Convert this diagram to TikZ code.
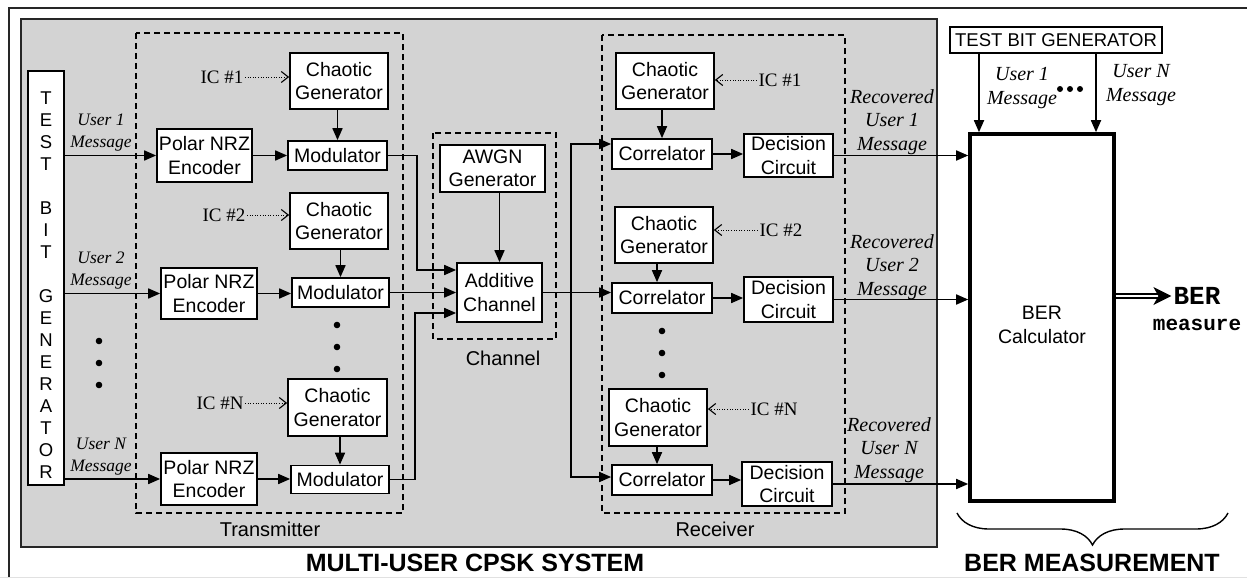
\documentclass[tikz,border=0pt]{standalone}
\usepackage{fontspec}
\setmainfont{Liberation Serif}
\setsansfont{Liberation Sans}
\setmonofont{Liberation Mono}
\usetikzlibrary{arrows.meta,decorations.pathreplacing,calc}

\definecolor{panel}{RGB}{211,211,211}
\definecolor{rule}{RGB}{225,225,225}

\tikzset{
  blk/.style={draw, line width=1.7pt, fill=white, inner sep=0pt, align=center,
    font=\sffamily\fontsize{19.5}{23.5}\selectfont},
  grp/.style={draw, line width=1.5pt, dash pattern=on 6pt off 4pt},
  grplabel/.style={font=\sffamily\fontsize{20}{24}\selectfont, inner sep=0pt},
  arr/.style={line width=1.7pt, -{Triangle[length=12pt,width=10pt]}},
  twoarr/.style={line width=1.7pt, {Triangle[length=12pt,width=10pt]}-{Triangle[length=12pt,width=10pt]}},
  icarr/.style={line width=1pt, dash pattern=on 1pt off 1.6pt,
    -{Straight Barb[length=7pt,width=11pt,line width=1.1pt]}},
  msgl/.style={font=\itshape\fontsize{17.5}{22}\selectfont, align=center, inner sep=0pt},
  msgr/.style={font=\itshape\fontsize{20}{23.5}\selectfont, align=center, inner sep=0pt},
  ic/.style={font=\rmfamily\fontsize{19}{22}\selectfont, inner sep=1.5pt},
  title/.style={font=\sffamily\bfseries\fontsize{25}{28}\selectfont, inner sep=0pt},
}

\begin{document}
\begin{tikzpicture}[x=1pt, y=-1pt]
\useasboundingbox (0,0) rectangle (1247,578);

% frame and system panel
\draw[line width=1.6pt, black!85] (9,578) -- (9,8) -- (1247,8);
\draw[line width=1pt, rule] (0,577.5) -- (1247,577.5);
\draw[line width=1.8pt, fill=panel, draw=black!85] (21,19) rectangle (937,547);

% dashed groups
\draw[grp] (136,33) rectangle (403,513);
\draw[grp] (433,133) rectangle (556,339);
\draw[grp] (602,35) rectangle (845,513);
\node[grplabel] (txl) at (270,529) {Transmitter};
\node[grplabel] (chl) at (503,358) {Channel};
\node[grplabel] (rxl) at (715,529) {Receiver};

% test bit generator (left)
\node[blk, minimum width=36pt, minimum height=414pt] (tbg) at (46,278) {};
\node[font=\sffamily\fontsize{18.5}{22}\selectfont, align=center, inner sep=0pt] (tbgtxt) at (46,285)
  {T\\E\\S\\T\\\mbox{}\\B\\I\\T\\\mbox{}\\G\\E\\N\\E\\R\\A\\T\\O\\R};

% transmitter
\node[blk, minimum width=95pt, minimum height=53pt] (pe1) at (204.5,155.5) {Polar NRZ\\Encoder};
\node[blk, minimum width=98pt, minimum height=56pt] (cg1) at (339,81) {Chaotic\\Generator};
\node[blk, minimum width=99pt, minimum height=29pt] (mod1) at (337.5,155.5) {Modulator};
\node[blk, minimum width=98pt, minimum height=56pt] (cg2) at (339,221) {Chaotic\\Generator};
\node[blk, minimum width=96pt, minimum height=51pt] (pe2) at (209,293.5) {Polar NRZ\\Encoder};
\node[blk, minimum width=97pt, minimum height=29pt] (mod2) at (340.5,292.5) {Modulator};
\node[blk, minimum width=99pt, minimum height=57pt] (cgN) at (337.5,407.5) {Chaotic\\Generator};
\node[blk, minimum width=96pt, minimum height=52pt] (peN) at (209,479) {Polar NRZ\\Encoder};
\node[blk, minimum width=98pt, minimum height=28pt] (modN) at (340,479.5) {Modulator};

\node[ic] (ic1) at (222,77) {IC \#1};
\node[ic] (ic2) at (224,215) {IC \#2};
\node[ic] (icN) at (220,403) {IC \#N};

\node[msgl] (m1) at (101,133) {User 1\\Message};
\node[msgl] (m2) at (101,271) {User 2\\Message};
\node[msgl] (mN) at (101,457) {User N\\Message};

% channel
\node[blk, minimum width=105pt, minimum height=47pt] (awgn) at (492.5,168.5) {AWGN\\Generator};
\node[blk, minimum width=85pt, minimum height=59pt] (add) at (499.5,292.5) {Additive\\Channel};

% receiver
\node[blk, minimum width=98pt, minimum height=56pt] (rcg1) at (665,81) {Chaotic\\Generator};
\node[blk, minimum width=100pt, minimum height=30pt] (cor1) at (662,154) {Correlator};
\node[blk, minimum width=89pt, minimum height=43pt] (dec1) at (788.5,155.5) {Decision\\Circuit};
\node[blk, minimum width=98pt, minimum height=56pt] (rcg2) at (664,235) {Chaotic\\Generator};
\node[blk, minimum width=100pt, minimum height=30pt] (cor2) at (662,298) {Correlator};
\node[blk, minimum width=89pt, minimum height=45pt] (dec2) at (788.5,299.5) {Decision\\Circuit};
\node[blk, minimum width=98pt, minimum height=57pt] (rcgN) at (658,417.5) {Chaotic\\Generator};
\node[blk, minimum width=100pt, minimum height=30pt] (corN) at (662,480) {Correlator};
\node[blk, minimum width=90pt, minimum height=44pt] (decN) at (787,484) {Decision\\Circuit};

\node[ic] (ric1) at (780,80) {IC \#1};
\node[ic] (ric2) at (781,230) {IC \#2};
\node[ic] (ricN) at (774,409) {IC \#N};

\node[msgr] (r1) at (892,122) {Recovered\\User 1\\Message};
\node[msgr] (r2) at (892,267) {Recovered\\User 2\\Message};
\node[msgr] (rN) at (889,450) {Recovered\\User N\\Message};

% BER measurement
\node[blk, font=\sffamily\fontsize{18.5}{22}\selectfont, minimum width=212pt, minimum height=26pt] (tbgtop) at (1056,40) {TEST BIT GENERATOR};
\node[draw, line width=3.6pt, fill=white, minimum width=144pt, minimum height=367pt] (ber) at (1042,317.5) {};
\node[blk, draw=none, fill=none] (bertxt) at (1042,325) {BER\\Calculator};
\node[msgr] (u1) at (1022,88) {User 1\\Message};
\node[msgr] (uN) at (1141,85) {User N\\Message};
\node[font=\ttfamily\bfseries\fontsize{26}{28}\selectfont, inner sep=2pt] (bero1) at (1197,296) {BER};
\node[font=\ttfamily\bfseries\fontsize{21}{24}\selectfont, inner sep=0pt] (bero2) at (1197,325) {measure};

\node[title] (sysname) at (475,563) {MULTI-USER CPSK SYSTEM};
\node[title] (bername) at (1092,563) {BER MEASUREMENT};

% ellipsis dots
\foreach \yy in {341,363,385} \fill (99,\yy) circle (3.3pt);
\foreach \yy in {325,347,369} \fill (337,\yy) circle (3.3pt);
\foreach \yy in {331,353,375} \fill (662,\yy) circle (3.3pt);
\foreach \xx in {1060,1070,1080} \fill (\xx,89) circle (3pt);

% transmitter connections
\draw[arr] (tbg.east |- pe1.west) -- (pe1.west);
\draw[arr] (tbg.east |- pe2.west) -- (pe2.west);
\draw[arr] (tbg.east |- peN.west) -- (peN.west);
\draw[arr] (pe1.east) -- (pe1.east -| mod1.west);
\draw[arr] (pe2.east) -- (pe2.east -| mod2.west);
\draw[arr] (peN.east) -- (peN.east -| modN.west);
\draw[arr] (mod1.north |- cg1.south) -- (mod1.north);
\draw[arr] (mod2.north |- cg2.south) -- (mod2.north);
\draw[arr] (modN.north |- cgN.south) -- (modN.north);
\draw[icarr] (ic1.east) -- (ic1.east -| cg1.west);
\draw[icarr] (ic2.east) -- (ic2.east -| cg2.west);
\draw[icarr] (icN.east) -- (icN.east -| cgN.west);

% into the channel
\coordinate (t1) at (417,270);
\coordinate (t3) at (415,313);
\draw[arr] (mod1.east) -| (t1) -- (t1 -| add.west);
\draw[arr] (mod2.east) -- (mod2.east -| add.west);
\draw[arr] (modN.east) -| (t3) -- (t3 -| add.west);
\draw[arr] (add.north |- awgn.south) -- (add.north);

% channel output to the correlators
\coordinate (b1) at (571,144);
\coordinate (bN) at (571,477);
\draw[arr] (add.east) -- (add.east -| cor2.west);
\draw[twoarr] (b1 -| cor1.west) -- (b1) -- (bN) -- (bN -| corN.west);

% receiver connections
\coordinate (rx) at (657,0);
\draw[arr] (rcg1.south -| cor1.north) -- (cor1.north);
\draw[arr] (rcg2.south -| rx) -- (cor2.north -| rx);
\draw[arr] (rcgN.south -| rx) -- (corN.north -| rx);
\draw[icarr] (ric1.west) -- (ric1.west -| rcg1.east);
\draw[icarr] (ric2.west) -- (ric2.west -| rcg2.east);
\draw[icarr] (ricN.west) -- (ricN.west -| rcgN.east);
\draw[arr] (cor1.east) -- (cor1.east -| dec1.west);
\draw[arr] (cor2.east) -- (cor2.east -| dec2.west);
\draw[arr] (corN.east) -- (corN.east -| decN.west);
\draw[arr] (dec1.east) -- (dec1.east -| ber.west);
\draw[arr] (dec2.east) -- (dec2.east -| ber.west);
\draw[arr] (decN.east) -- (decN.east -| ber.west);

% BER side
\coordinate (ux1) at (979,0);
\coordinate (uxN) at (1096,0);
\draw[arr] (tbgtop.south -| ux1) -- (ber.north -| ux1);
\draw[arr] (tbgtop.south -| uxN) -- (ber.north -| uxN);
\draw[double, line width=1.5pt, double distance=2.8pt,
  -{Stealth[length=18pt,width=18pt,inset=5pt]}] (ber.east |- bero1.west) -- (bero1.west);
\draw[line width=1.4pt, decorate, decoration={brace, amplitude=32pt, aspect=0.5}]
  (1228,513) -- (957,513);
\end{tikzpicture}
\end{document}
